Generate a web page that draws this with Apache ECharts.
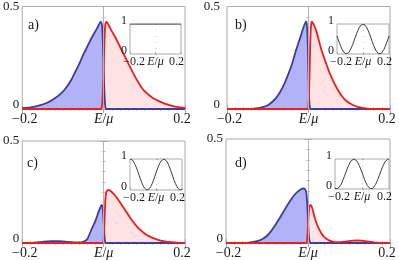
<!DOCTYPE html>
<html><head><meta charset="utf-8">
<script src="https://cdn.jsdelivr.net/npm/echarts@6/dist/echarts.min.js"></script>
<style>html,body{margin:0;padding:0;background:#fff}#c{width:399px;height:260px}</style>
</head><body><div id="c"></div>
<script>
// ---------- data ----------
const aBlue = [[-0.2,0.004],[-0.18,0.008],[-0.16,0.016],[-0.14,0.029],[-0.12,0.052],[-0.10,0.085],[-0.09,0.11],[-0.08,0.14],[-0.07,0.18],[-0.06,0.22],[-0.05,0.265],[-0.04,0.305],[-0.03,0.345],[-0.02,0.38],[-0.012,0.41],[-0.007,0.426],[-0.004,0.41],[-0.002,0.33],[0,0.2],[0.002,0.08],[0.004,0.015],[0.006,0],[0.2,0]];
const aRed = [[-0.2,0],[-0.006,0],[-0.004,0.015],[-0.002,0.08],[0,0.2],[0.002,0.33],[0.004,0.41],[0.007,0.426],[0.012,0.41],[0.02,0.38],[0.03,0.345],[0.04,0.305],[0.05,0.265],[0.06,0.225],[0.07,0.185],[0.08,0.148],[0.09,0.115],[0.10,0.088],[0.12,0.055],[0.14,0.035],[0.16,0.02],[0.18,0.01],[0.2,0.005]];
const bBlue = [[-0.2,0],[-0.14,0.001],[-0.12,0.005],[-0.11,0.01],[-0.10,0.018],[-0.09,0.033],[-0.08,0.053],[-0.07,0.082],[-0.06,0.12],[-0.05,0.168],[-0.04,0.222],[-0.03,0.29],[-0.02,0.35],[-0.012,0.40],[-0.006,0.426],[-0.004,0.41],[-0.002,0.33],[0,0.16],[0.001,0.07],[0.003,0.01],[0.005,0],[0.2,0]];
const bRed = [[-0.2,0],[-0.002,0],[0,0.02],[0.002,0.12],[0.004,0.30],[0.006,0.40],[0.008,0.426],[0.012,0.415],[0.02,0.375],[0.03,0.30],[0.04,0.24],[0.05,0.185],[0.06,0.14],[0.07,0.1],[0.08,0.068],[0.09,0.045],[0.10,0.029],[0.11,0.018],[0.12,0.01],[0.14,0.003],[0.16,0],[0.2,0]];
const cBlue = [[-0.2,0],[-0.17,0.002],[-0.15,0.006],[-0.13,0.009],[-0.11,0.009],[-0.09,0.006],[-0.07,0.003],[-0.06,0.003],[-0.05,0.006],[-0.04,0.02],[-0.03,0.065],[-0.02,0.11],[-0.012,0.155],[-0.007,0.18],[-0.005,0.187],[-0.003,0.18],[-0.001,0.14],[0.001,0.07],[0.003,0.015],[0.005,0],[0.2,0]];
const cRed = [[-0.2,0],[-0.002,0],[0,0.02],[0.002,0.1],[0.004,0.2],[0.006,0.245],[0.009,0.258],[0.012,0.26],[0.02,0.25],[0.03,0.228],[0.04,0.2],[0.05,0.17],[0.06,0.14],[0.07,0.11],[0.08,0.085],[0.09,0.064],[0.10,0.048],[0.11,0.035],[0.12,0.025],[0.13,0.018],[0.14,0.012],[0.15,0.008],[0.16,0.005],[0.18,0.002],[0.2,0]];
const dBlue = [[-0.2,0],[-0.15,0.001],[-0.14,0.003],[-0.13,0.006],[-0.12,0.011],[-0.11,0.02],[-0.10,0.035],[-0.09,0.057],[-0.08,0.085],[-0.07,0.117],[-0.06,0.15],[-0.05,0.183],[-0.04,0.213],[-0.03,0.238],[-0.02,0.255],[-0.012,0.262],[-0.007,0.258],[-0.004,0.24],[-0.002,0.19],[0,0.11],[0.002,0.04],[0.004,0.008],[0.006,0],[0.2,0]];
const dRed = [[-0.2,0],[-0.004,0],[-0.002,0.02],[0,0.08],[0.002,0.15],[0.004,0.178],[0.006,0.183],[0.009,0.175],[0.012,0.155],[0.016,0.125],[0.02,0.1],[0.025,0.075],[0.03,0.056],[0.035,0.04],[0.04,0.028],[0.045,0.02],[0.05,0.014],[0.06,0.007],[0.07,0.004],[0.08,0.004],[0.09,0.006],[0.10,0.009],[0.11,0.011],[0.12,0.012],[0.13,0.011],[0.14,0.009],[0.15,0.006],[0.16,0.003],[0.18,0.001],[0.2,0]];

const insetE = [-0.20,-0.19,-0.18,-0.17,-0.16,-0.15,-0.14,-0.13,-0.12,-0.11,-0.10,-0.09,-0.08,-0.07,-0.06,-0.05,-0.04,-0.03,-0.02,-0.01,0,0.01,0.02,0.03,0.04,0.05,0.06,0.07,0.08,0.09,0.10,0.11,0.12,0.13,0.14,0.15,0.16,0.17,0.18,0.19,0.20];
const insetAE = [-0.2, 0.2];
const insetA = [1, 1];
const insetB = [0.598,0.476,0.355,0.243,0.146,0.070,0.021,0.000,0.010,0.048,0.113,0.203,0.309,0.427,0.549,0.669,0.778,0.870,0.941,0.985,1.000,0.985,0.941,0.870,0.778,0.669,0.549,0.427,0.309,0.203,0.113,0.048,0.010,0.000,0.021,0.070,0.146,0.243,0.355,0.476,0.598];
const insetC = [0.998,0.994,0.962,0.901,0.817,0.713,0.598,0.476,0.355,0.243,0.146,0.070,0.021,0.000,0.010,0.048,0.113,0.203,0.309,0.427,0.549,0.669,0.778,0.870,0.941,0.985,1.000,0.985,0.941,0.870,0.778,0.669,0.549,0.427,0.309,0.203,0.113,0.048,0.010,0.000,0.021];
const insetD = [0.021,0.000,0.010,0.048,0.113,0.203,0.309,0.427,0.549,0.669,0.778,0.870,0.941,0.985,1.000,0.985,0.941,0.870,0.778,0.669,0.549,0.427,0.309,0.203,0.113,0.048,0.010,0.000,0.021,0.070,0.146,0.243,0.355,0.476,0.598,0.713,0.817,0.901,0.962,0.994,0.998];

const mainXRange = [-0.2, 0.2];
const mainYRange = [0, 0.5];
const insetYRange = [0, 1];
const panelLabels = ['a)', 'b)', 'c)', 'd)'];

// ---------- layout & style ----------
const SERIF = '"Liberation Serif", "Times New Roman", serif';
const mainBoxes = [
  {left:19, top:5, width:166, height:104},
  {left:227, top:5, width:163, height:104},
  {left:19, top:141, width:166, height:103},
  {left:226, top:139, width:164, height:105}
];
const insetBoxes = [
  {left:130, top:24, width:51, height:30},
  {left:337, top:24, width:52, height:30},
  {left:130, top:159, width:52, height:31},
  {left:335, top:159, width:54, height:30}
];
const labelPos = [[28,18],[235,18],[27,156],[235,156]];
const yMargins = [3, 7, 3, 3];

const blues = [aBlue, bBlue, cBlue, dBlue];
const reds = [aRed, bRed, cRed, dRed];
const insets = [
  insetAE.map((e, k) => [e, insetA[k]]),
  insetE.map((e, k) => [e, insetB[k]]),
  insetE.map((e, k) => [e, insetC[k]]),
  insetE.map((e, k) => [e, insetD[k]])
];

const FRAME = '#aaaaaa';
const TXT = '#1a1a1a';

function xFormatter(size, padL, padR) {
  return {
    fontFamily: SERIF, fontSize: size, color: TXT,
    formatter: function (v) {
      if (Math.abs(v) < 1e-9) return '{i|E}{s|/}{i|μ}';
      if (v < 0) return '{l|−' + Math.abs(v).toFixed(1) + '}';
      return '{r|' + v.toFixed(1) + '}';
    },
    rich: {
      i: {fontFamily: SERIF, fontSize: size, fontStyle: 'italic', color: TXT},
      s: {fontFamily: SERIF, fontSize: size, color: TXT},
      l: {fontFamily: SERIF, fontSize: size, color: TXT, padding: [0, 0, 0, padL]},
      r: {fontFamily: SERIF, fontSize: size, color: TXT, padding: [0, padR, 0, 0]}
    }
  };
}

const grid = [], xAxis = [], yAxis = [], series = [], title = [];

mainBoxes.forEach((b) => {
  grid.push(Object.assign({show: true, borderColor: FRAME, borderWidth: 1, containLabel: false}, b));
});
insetBoxes.forEach((b) => {
  grid.push(Object.assign({show: true, borderColor: FRAME, borderWidth: 1, backgroundColor: '#fff', containLabel: false, z: 6}, b));
});

for (let i = 0; i < 4; i++) {
  xAxis.push({
    gridIndex: i, type: 'value', min: mainXRange[0], max: mainXRange[1], interval: 0.2,
    axisLine: {show: false}, splitLine: {show: false},
    axisTick: {show: true, inside: true, length: 4, lineStyle: {color: FRAME}},
    minorTick: {show: true, splitNumber: 10, length: 2, lineStyle: {color: '#c4c4c4'}},
    axisLabel: Object.assign({margin: 3}, xFormatter(14, 5, 6))
  });
}
for (let i = 0; i < 4; i++) {
  xAxis.push({
    gridIndex: 4 + i, type: 'value', min: mainXRange[0], max: mainXRange[1], interval: 0.2, z: 10,
    axisLine: {show: false}, splitLine: {show: false},
    axisTick: {show: true, inside: true, length: 2, lineStyle: {color: FRAME}},
    minorTick: {show: true, splitNumber: 4, length: 1, lineStyle: {color: '#c4c4c4'}},
    axisLabel: Object.assign({margin: 2}, xFormatter(12, 8, 9))
  });
}
for (let i = 0; i < 4; i++) {
  xAxis.push({
    gridIndex: i, type: 'value', position: 'top', min: mainXRange[0], max: mainXRange[1], interval: 0.2,
    axisLine: {show: false}, splitLine: {show: false}, axisLabel: {show: false},
    axisTick: {show: true, inside: true, length: 4, lineStyle: {color: FRAME}},
    minorTick: {show: true, splitNumber: 10, length: 2, lineStyle: {color: '#c4c4c4'}}
  });
}
for (let i = 0; i < 4; i++) {
  yAxis.push({
    gridIndex: i, type: 'value', min: mainYRange[0], max: mainYRange[1], interval: 0.5,
    axisLine: {show: false}, splitLine: {show: false},
    axisTick: {show: true, inside: true, length: 4, lineStyle: {color: FRAME}},
    minorTick: {show: true, splitNumber: 10, length: 2, lineStyle: {color: '#c4c4c4'}},
    axisLabel: {
      margin: yMargins[i], fontFamily: SERIF, fontSize: 13, color: TXT,
      formatter: function (v) { return v === 0 ? '{z|0}' : '{n|' + v.toFixed(1) + '}'; },
      rich: {
        z: {fontFamily: SERIF, fontSize: 13, color: TXT, padding: [0, 0, 8, 0]},
        n: {fontFamily: SERIF, fontSize: 13, color: TXT}
      }
    }
  });
}
for (let i = 0; i < 4; i++) {
  yAxis.push({
    gridIndex: 4 + i, type: 'value', min: insetYRange[0], max: insetYRange[1], interval: 1, z: 10,
    axisLine: {show: false}, splitLine: {show: false},
    axisTick: {show: true, inside: true, length: 2, lineStyle: {color: FRAME}},
    minorTick: {show: true, splitNumber: 5, length: 1, lineStyle: {color: '#c4c4c4'}},
    axisLabel: {
      margin: 3, fontFamily: SERIF, fontSize: 12, color: TXT,
      formatter: function (v) { return '{u|' + v + '}'; },
      rich: {u: {fontFamily: SERIF, fontSize: 12, color: TXT, padding: [0, 0, 6, 0]}}
    }
  });
}
for (let i = 0; i < 4; i++) {
  yAxis.push({
    gridIndex: i, type: 'value', position: 'right', min: mainYRange[0], max: mainYRange[1], interval: 0.5,
    axisLine: {show: false}, splitLine: {show: false}, axisLabel: {show: false},
    axisTick: {show: true, inside: true, length: 4, lineStyle: {color: FRAME}},
    minorTick: {show: true, splitNumber: 10, length: 2, lineStyle: {color: '#c4c4c4'}}
  });
}

const zeroLine = (color) => ({
  silent: true, symbol: ['none', 'none'], label: {show: false},
  lineStyle: {color: color, width: 1, type: 'solid'},
  emphasis: {disabled: true},
  data: [{xAxis: 0}]
});

for (let i = 0; i < 4; i++) {
  series.push({
    type: 'line', xAxisIndex: i, yAxisIndex: i, data: blues[i], showSymbol: false, smooth: 0.2,
    lineStyle: {width: 0}, areaStyle: {color: '#b2b2f6', opacity: 1}, silent: true, z: 2,
    markLine: zeroLine('#b5b5b5')
  });
  series.push({
    type: 'line', xAxisIndex: i, yAxisIndex: i, data: reds[i], showSymbol: false, smooth: 0.2,
    lineStyle: {width: 0}, areaStyle: {color: '#fde3e3', opacity: 1}, silent: true, z: 2
  });
  series.push({
    type: 'line', xAxisIndex: i, yAxisIndex: i, data: blues[i], showSymbol: false, smooth: 0.2,
    lineStyle: {width: 1.8, color: '#3d3d9c'}, silent: true, z: 3
  });
  series.push({
    type: 'line', xAxisIndex: i, yAxisIndex: i, data: reds[i], showSymbol: false, smooth: 0.2,
    lineStyle: {width: 1.8, color: '#f01c1c'}, silent: true, z: 4
  });
  series.push({
    type: 'line', xAxisIndex: 4 + i, yAxisIndex: 4 + i, data: insets[i], showSymbol: false,
    lineStyle: {width: 1, color: '#3a3a3a'}, silent: true, z: 12,
    markLine: zeroLine('#bdbdbd')
  });
  title.push({
    text: panelLabels[i], left: labelPos[i][0], top: labelPos[i][1], padding: 0,
    textStyle: {fontFamily: SERIF, fontSize: 14, fontWeight: 'normal', color: TXT}
  });
}

const chart = echarts.init(document.getElementById('c'), null, {renderer: 'canvas'});
chart.setOption({
  animation: false,
  backgroundColor: '#ffffff',
  title: title,
  grid: grid,
  xAxis: xAxis,
  yAxis: yAxis,
  series: series
});
</script>
</body></html>
